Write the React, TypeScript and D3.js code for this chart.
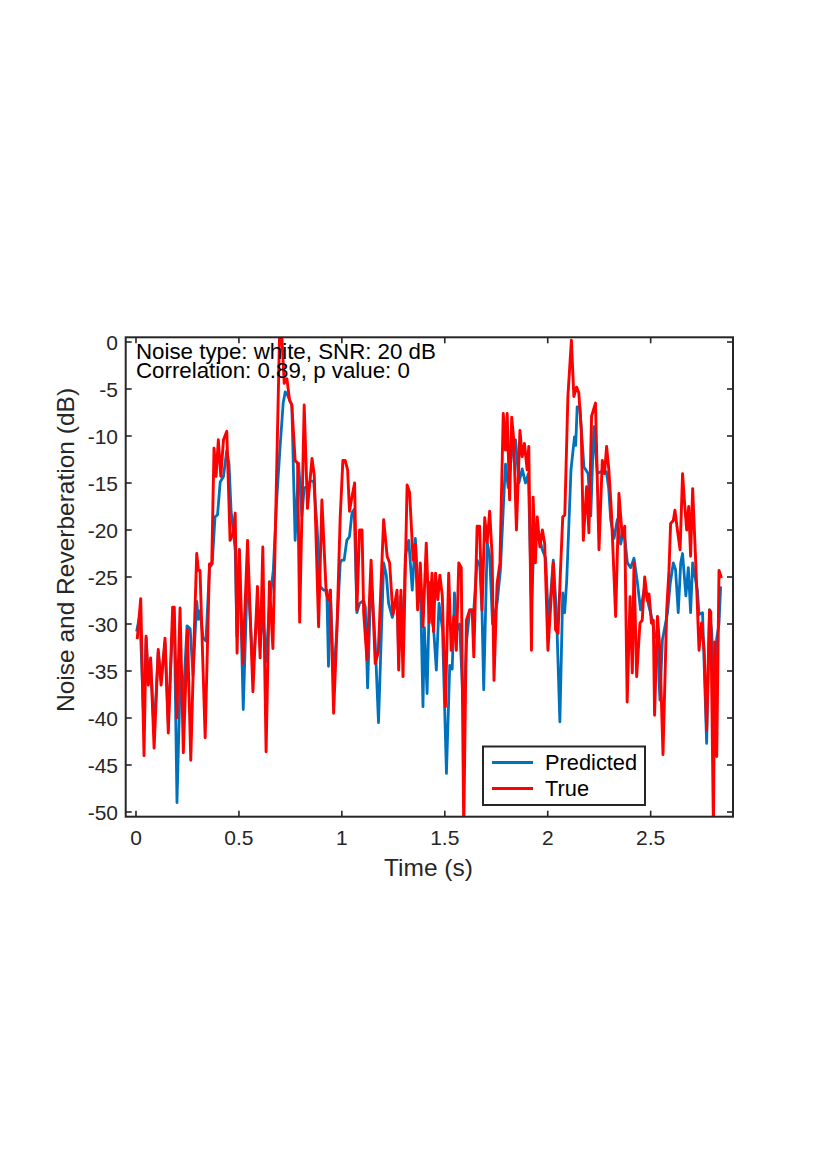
import React, { useEffect, useRef } from 'react';
import * as d3 from 'd3';

// [time (s), level (dB)]
const TRUE_SERIES: [number, number][] = [
  [0.006,-31.6],[0.023,-27.3],[0.039,-44.0],[0.049,-31.3],[0.060,-36.5],[0.071,-33.6],[0.088,-43.2],[0.108,-32.7],
  [0.122,-36.5],[0.141,-31.5],[0.157,-41.6],[0.178,-28.2],[0.186,-28.2],[0.198,-40.0],[0.214,-28.3],[0.230,-43.7],
  [0.250,-30.6],[0.266,-44.5],[0.282,-31.7],[0.295,-22.5],[0.303,-24.3],[0.311,-24.3],[0.336,-42.1],[0.357,-23.6],
  [0.368,-23.6],[0.379,-11.3],[0.389,-14.3],[0.400,-10.4],[0.412,-14.3],[0.425,-10.4],[0.441,-9.5],[0.457,-21.1],
  [0.470,-20.5],[0.482,-18.2],[0.491,-33.1],[0.502,-22.1],[0.519,-34.2],[0.542,-21.1],[0.568,-37.2],[0.590,-26.0],
  [0.603,-33.6],[0.616,-21.8],[0.632,-43.6],[0.648,-25.5],[0.665,-32.6],[0.697,0.4],[0.709,0.4],[0.720,-4.4],
  [0.733,-3.9],[0.746,-6.2],[0.757,-6.7],[0.773,-12.6],[0.785,-12.9],[0.795,-29.8],[0.817,-6.7],[0.833,-17.7],
  [0.855,-12.4],[0.866,-14.2],[0.887,-30.3],[0.903,-16.8],[0.924,-26.7],[0.935,-27.5],[0.944,-26.4],[0.960,-39.5],
  [0.976,-30.6],[0.992,-18.6],[1.005,-12.6],[1.016,-12.6],[1.028,-13.6],[1.037,-18.0],[1.049,-16.5],[1.062,-15.0],
  [1.073,-28.5],[1.086,-20.0],[1.098,-20.0],[1.106,-28.8],[1.122,-33.8],[1.142,-23.2],[1.162,-34.2],[1.177,-33.0],
  [1.203,-18.9],[1.220,-22.8],[1.232,-23.5],[1.248,-29.0],[1.268,-26.4],[1.276,-34.9],[1.287,-26.4],[1.297,-35.6],
  [1.317,-15.2],[1.329,-16.0],[1.346,-23.2],[1.357,-21.5],[1.368,-28.5],[1.381,-23.5],[1.394,-30.3],[1.410,-21.4],
  [1.424,-29.9],[1.438,-24.6],[1.445,-30.8],[1.455,-24.6],[1.466,-27.4],[1.476,-24.8],[1.488,-27.0],[1.503,-38.8],
  [1.519,-24.6],[1.531,-32.8],[1.544,-29.2],[1.556,-32.8],[1.568,-23.5],[1.580,-24.0],[1.592,-52.0],[1.605,-29.6],
  [1.621,-28.5],[1.633,-28.5],[1.641,-33.5],[1.657,-19.6],[1.669,-19.6],[1.681,-28.5],[1.694,-18.7],[1.706,-21.3],
  [1.718,-18.0],[1.730,-22.8],[1.739,-36.0],[1.754,-25.7],[1.768,-23.5],[1.784,-7.6],[1.795,-11.5],[1.803,-7.6],
  [1.815,-16.8],[1.825,-8.0],[1.835,-10.4],[1.848,-20.0],[1.865,-9.4],[1.876,-12.2],[1.887,-10.8],[1.900,-13.6],
  [1.908,-11.1],[1.921,-32.8],[1.929,-16.5],[1.940,-23.5],[1.949,-18.6],[1.962,-21.8],[1.974,-20.0],[1.985,-21.4],
  [2.001,-32.8],[2.010,-29.6],[2.027,-23.5],[2.038,-30.6],[2.050,-31.0],[2.062,-24.3],[2.073,-18.6],[2.083,-18.4],
  [2.098,-5.8],[2.115,0.2],[2.127,-5.8],[2.140,-4.8],[2.151,-5.4],[2.163,-9.4],[2.173,-21.1],[2.189,-15.4],
  [2.200,-20.3],[2.213,-7.9],[2.232,-6.5],[2.249,-22.1],[2.265,-12.6],[2.276,-14.0],[2.286,-11.1],[2.297,-13.6],
  [2.309,-17.9],[2.330,-29.2],[2.346,-16.1],[2.362,-20.7],[2.374,-19.6],[2.386,-38.3],[2.400,-27.1],[2.411,-35.2],
  [2.419,-23.5],[2.432,-35.6],[2.448,-29.9],[2.459,-29.6],[2.471,-25.0],[2.484,-27.5],[2.492,-26.8],[2.504,-29.9],
  [2.513,-29.6],[2.519,-39.7],[2.533,-29.2],[2.545,-32.8],[2.560,-43.9],[2.578,-28.5],[2.589,-24.3],[2.597,-19.3],
  [2.610,-19.0],[2.618,-17.9],[2.630,-20.0],[2.643,-22.1],[2.655,-14.0],[2.665,-17.2],[2.675,-20.0],[2.685,-17.5],
  [2.694,-22.8],[2.704,-15.6],[2.719,-23.5],[2.735,-32.8],[2.747,-29.9],[2.760,-32.8],[2.772,-41.3],[2.786,-28.5],
  [2.792,-28.7],[2.805,-52.0],[2.811,-31.9],[2.821,-44.1],[2.832,-24.3],[2.844,-25.1],
];

const PREDICTED_SERIES: [number, number][] = [
  [0.003,-30.8],[0.019,-29.0],[0.037,-40.0],[0.049,-31.5],[0.060,-36.0],[0.071,-34.0],[0.088,-41.5],[0.108,-33.0],
  [0.122,-36.0],[0.141,-32.0],[0.157,-40.5],[0.178,-30.0],[0.187,-31.0],[0.199,-49.0],[0.217,-34.0],[0.230,-38.0],
  [0.248,-30.2],[0.263,-30.5],[0.277,-35.5],[0.295,-27.6],[0.303,-29.5],[0.311,-28.6],[0.326,-31.5],[0.340,-31.8],
  [0.357,-24.0],[0.370,-23.6],[0.384,-18.6],[0.396,-18.4],[0.409,-14.9],[0.425,-14.3],[0.441,-11.5],[0.452,-13.0],
  [0.462,-18.0],[0.482,-22.1],[0.490,-31.3],[0.502,-22.1],[0.521,-39.1],[0.542,-24.0],[0.568,-35.0],[0.590,-28.0],
  [0.603,-32.5],[0.616,-28.5],[0.632,-34.0],[0.648,-28.0],[0.667,-24.3],[0.683,-17.0],[0.700,-11.1],[0.715,-6.5],
  [0.725,-5.3],[0.735,-5.6],[0.757,-6.7],[0.773,-21.1],[0.790,-12.9],[0.806,-18.5],[0.817,-15.5],[0.833,-15.5],
  [0.846,-14.8],[0.863,-14.8],[0.879,-19.5],[0.895,-26.0],[0.911,-26.4],[0.927,-26.4],[0.935,-34.5],[0.944,-26.4],
  [0.960,-36.0],[0.976,-30.5],[0.992,-23.5],[1.000,-23.2],[1.011,-23.2],[1.024,-21.1],[1.037,-20.7],[1.049,-18.2],
  [1.060,-17.8],[1.073,-28.8],[1.086,-27.8],[1.106,-27.5],[1.114,-28.2],[1.125,-36.8],[1.142,-25.0],[1.162,-32.0],
  [1.178,-40.5],[1.203,-23.5],[1.216,-24.8],[1.227,-27.8],[1.245,-29.3],[1.268,-27.0],[1.276,-33.5],[1.287,-27.0],
  [1.297,-33.0],[1.308,-22.8],[1.325,-21.1],[1.342,-26.4],[1.357,-20.9],[1.373,-27.6],[1.381,-25.0],[1.394,-38.8],
  [1.401,-30.4],[1.414,-37.4],[1.427,-25.6],[1.438,-29.6],[1.446,-30.6],[1.459,-34.9],[1.472,-27.8],[1.489,-30.6],
  [1.508,-45.9],[1.524,-34.4],[1.536,-34.8],[1.547,-26.7],[1.560,-30.6],[1.572,-30.0],[1.592,-40.0],[1.605,-32.0],
  [1.621,-28.5],[1.641,-28.5],[1.657,-23.2],[1.670,-23.8],[1.681,-28.8],[1.689,-37.0],[1.706,-21.3],[1.718,-22.8],
  [1.732,-30.0],[1.754,-27.8],[1.770,-24.3],[1.790,-15.0],[1.795,-13.0],[1.808,-15.5],[1.827,-11.5],[1.844,-10.4],
  [1.860,-15.0],[1.876,-13.5],[1.892,-15.0],[1.906,-14.0],[1.921,-28.0],[1.935,-20.5],[1.950,-20.0],[1.974,-22.1],
  [1.990,-23.0],[2.004,-30.0],[2.027,-23.2],[2.043,-29.0],[2.059,-40.4],[2.073,-26.7],[2.082,-28.8],[2.092,-25.5],
  [2.113,-13.6],[2.130,-10.1],[2.136,-11.0],[2.143,-6.9],[2.156,-6.9],[2.176,-13.3],[2.196,-14.0],[2.209,-18.5],
  [2.224,-9.0],[2.241,-14.0],[2.257,-13.8],[2.285,-13.8],[2.296,-15.5],[2.306,-18.9],[2.322,-20.9],[2.338,-18.9],
  [2.354,-21.5],[2.370,-20.0],[2.387,-23.5],[2.403,-24.0],[2.419,-23.0],[2.435,-25.5],[2.451,-28.5],[2.471,-26.0],
  [2.490,-28.0],[2.504,-29.2],[2.519,-31.0],[2.533,-31.7],[2.545,-38.1],[2.557,-31.7],[2.582,-28.8],[2.595,-25.7],
  [2.610,-23.5],[2.621,-24.2],[2.634,-28.8],[2.646,-23.5],[2.655,-22.5],[2.671,-27.0],[2.683,-24.0],[2.694,-28.8],
  [2.704,-23.5],[2.727,-26.4],[2.735,-29.0],[2.752,-28.8],[2.772,-42.7],[2.786,-28.5],[2.797,-31.0],[2.806,-37.0],
  [2.821,-31.5],[2.832,-30.0],[2.840,-26.0],
];

const X_TICKS = [0, 0.5, 1, 1.5, 2, 2.5];
const Y_TICKS = [-50, -45, -40, -35, -30, -25, -20, -15, -10, -5, 0];
const ANNOTATION = ['Noise type: white, SNR: 20 dB', 'Correlation: 0.89, p value: 0'];
const LEGEND = [
  { label: 'Predicted', color: '#0072BD' },
  { label: 'True', color: '#FF0000' },
];

const FONT = '"Liberation Sans", Arial, Helvetica, sans-serif';
const AXIS_COLOR = '#262626';

export default function App() {
  const svgRef = useRef<SVGSVGElement>(null);

  useEffect(() => {
    if (!svgRef.current) return;
    const root = d3.select(svgRef.current);
    root.selectAll('*').remove();

    const left = 125.7, right = 733, top = 337.3, bottom = 816.7;

    const x = d3.scaleLinear().domain([-0.05, 2.9]).range([left, right]);
    const y = d3.scaleLinear().domain([-50.5, 0.5]).range([bottom, top]);

    root
      .append('defs')
      .append('clipPath')
      .attr('id', 'plot-clip')
      .append('rect')
      .attr('x', left)
      .attr('y', top)
      .attr('width', right - left)
      .attr('height', bottom - top);

    const line = d3
      .line<[number, number]>()
      .x((d) => x(d[0]))
      .y((d) => y(d[1]));

    const plot = root.append('g').attr('clip-path', 'url(#plot-clip)');

    // predicted first, true drawn over it
    plot
      .append('path')
      .datum(PREDICTED_SERIES)
      .attr('d', line)
      .attr('fill', 'none')
      .attr('stroke', LEGEND[0].color)
      .attr('stroke-width', 2.8)
      .attr('stroke-linejoin', 'round');

    plot
      .append('path')
      .datum(TRUE_SERIES)
      .attr('d', line)
      .attr('fill', 'none')
      .attr('stroke', LEGEND[1].color)
      .attr('stroke-width', 2.9)
      .attr('stroke-linejoin', 'round');

    // ticks, inward on all four sides
    const tickLen = 6;
    const ticks = root.append('g').attr('stroke', AXIS_COLOR).attr('stroke-width', 1.6);
    X_TICKS.forEach((t) => {
      ticks.append('line').attr('x1', x(t)).attr('x2', x(t)).attr('y1', bottom).attr('y2', bottom - tickLen);
      ticks.append('line').attr('x1', x(t)).attr('x2', x(t)).attr('y1', top).attr('y2', top + tickLen);
    });
    Y_TICKS.forEach((v) => {
      ticks.append('line').attr('x1', left).attr('x2', left + tickLen).attr('y1', y(v)).attr('y2', y(v));
      ticks.append('line').attr('x1', right).attr('x2', right - tickLen).attr('y1', y(v)).attr('y2', y(v));
    });

    root
      .append('rect')
      .attr('x', left)
      .attr('y', top)
      .attr('width', right - left)
      .attr('height', bottom - top)
      .attr('fill', 'none')
      .attr('stroke', AXIS_COLOR)
      .attr('stroke-width', 2);

    const labels = root
      .append('g')
      .style('font-family', FONT)
      .style('font-size', '21px')
      .attr('fill', AXIS_COLOR);

    X_TICKS.forEach((t) => {
      labels
        .append('text')
        .attr('x', x(t))
        .attr('y', 845)
        .attr('text-anchor', 'middle')
        .text(String(t));
    });
    Y_TICKS.forEach((v) => {
      labels
        .append('text')
        .attr('x', 118)
        .attr('y', y(v) + 7.5)
        .attr('text-anchor', 'end')
        .text(String(v));
    });

    labels
      .append('text')
      .attr('x', 428.5)
      .attr('y', 876)
      .attr('text-anchor', 'middle')
      .style('font-size', '24.5px')
      .text('Time (s)');

    labels
      .append('text')
      .attr('transform', 'translate(74, 550) rotate(-90)')
      .attr('text-anchor', 'middle')
      .style('font-size', '24.5px')
      .text('Noise and Reverberation (dB)');

    ANNOTATION.forEach((s, i) => {
      root
        .append('text')
        .attr('x', x(0))
        .attr('y', 359 + i * 19)
        .style('font-family', FONT)
        .style('font-size', '22.3px')
        .attr('fill', '#000')
        .text(s);
    });

    // legend
    const legend = root.append('g');
    legend
      .append('rect')
      .attr('x', 483)
      .attr('y', 746.5)
      .attr('width', 162)
      .attr('height', 58.5)
      .attr('fill', '#fff')
      .attr('stroke', AXIS_COLOR)
      .attr('stroke-width', 2);
    LEGEND.forEach((item, i) => {
      const cy = 762.5 + i * 26;
      legend
        .append('line')
        .attr('x1', 492)
        .attr('x2', 533)
        .attr('y1', cy)
        .attr('y2', cy)
        .attr('stroke', item.color)
        .attr('stroke-width', 2.8);
      legend
        .append('text')
        .attr('x', 545)
        .attr('y', cy + 7.5)
        .style('font-family', FONT)
        .style('font-size', '21.8px')
        .attr('fill', '#000')
        .text(item.label);
    });
  }, []);

  return (
    <svg
      ref={svgRef}
      width={830}
      height={1175}
      style={{ position: 'absolute', left: 0, top: 0, background: '#fff' }}
    />
  );
}
